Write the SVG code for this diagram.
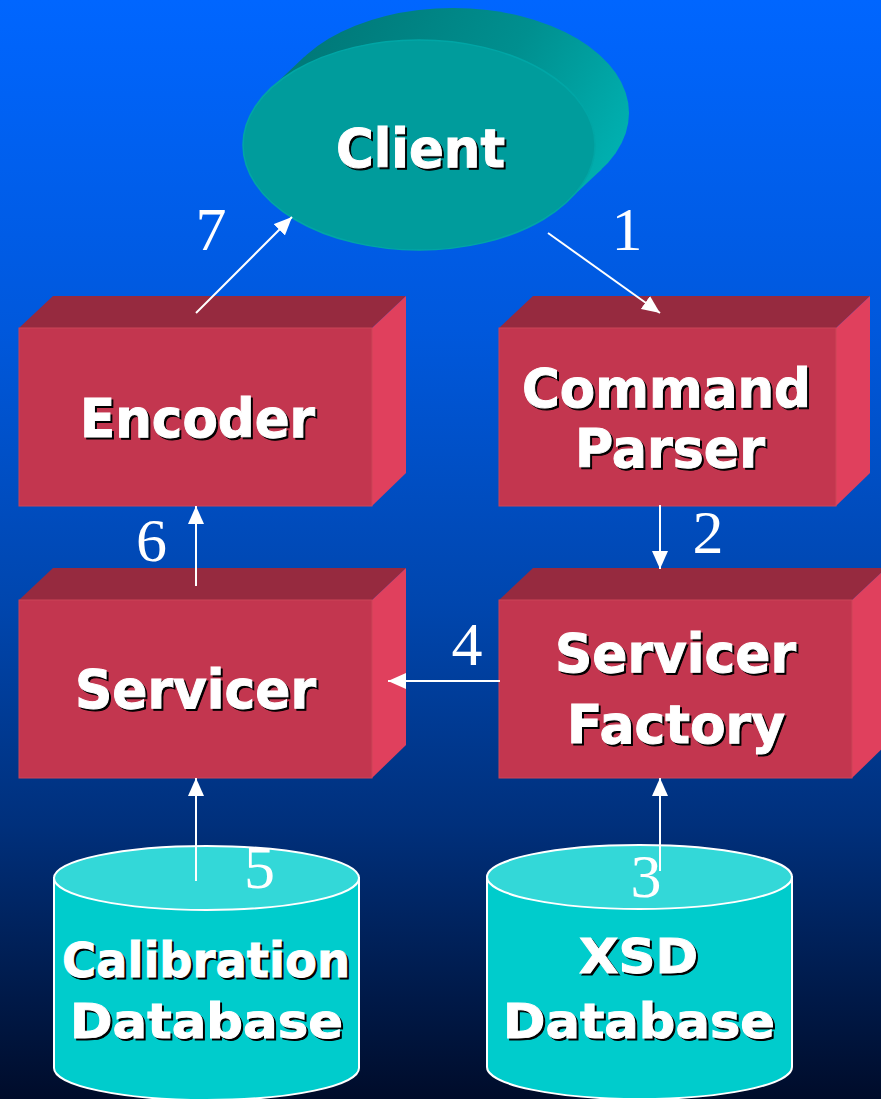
<svg xmlns="http://www.w3.org/2000/svg" width="881" height="1099" viewBox="0 0 881 1099">
  <defs>
    <linearGradient id="bg" x1="0" y1="0" x2="0" y2="1">
      <stop offset="0" stop-color="#0066FF"/>
      <stop offset="0.3" stop-color="#0058DC"/>
      <stop offset="0.55" stop-color="#0046AE"/>
      <stop offset="0.75" stop-color="#00307C"/>
      <stop offset="1" stop-color="#000C2A"/>
    </linearGradient>
    <linearGradient id="clientSide" gradientUnits="userSpaceOnUse" x1="330" y1="20" x2="630" y2="200">
      <stop offset="0" stop-color="#007A7A"/>
      <stop offset="0.5" stop-color="#008F8F"/>
      <stop offset="1" stop-color="#00B8B8"/>
    </linearGradient>
    <marker id="head" viewBox="0 0 18 16" refX="18" refY="8" markerWidth="18" markerHeight="16" markerUnits="userSpaceOnUse" orient="auto">
      <path d="M0,0 L18,8 L0,16 Z" fill="#FFFFFF"/>
    </marker>
  </defs>
  <style>
    .front { fill: #C3364F; stroke: #CC4458; stroke-width: 1; }
    .top { fill: #962A3F; }
    .side { fill: #E0405D; }
    .cyl-body { fill: #00CCCC; stroke: #FFFFFF; stroke-width: 2; }
    .cyl-top { fill: #33D8D8; stroke: #FFFFFF; stroke-width: 2; }
    .label { font-family: "DejaVu Sans", Verdana, sans-serif; font-weight: bold; text-anchor: middle; }
    .label .shadow { fill: #000000; stroke: #000000; stroke-width: 1; }
    .label .fg { fill: #FFFFFF; stroke: #FFFFFF; stroke-width: 1; }
    .num { font-family: "Liberation Serif", "Times New Roman", serif; font-size: 62px; fill: #FFFFFF; text-anchor: middle; }
    .conn { stroke: #FFFFFF; stroke-width: 2; fill: none; marker-end: url(#head); }
  </style>

  <rect x="0" y="0" width="881" height="1099" fill="url(#bg)"/>

  <!-- Client: extruded ellipse -->
  <g id="client">
    <ellipse cx="453" cy="113" rx="176" ry="105" fill="url(#clientSide)"/>
    <polygon points="270.4,88.7 304.4,56.7 601.6,169.3 567.6,201.3" fill="url(#clientSide)"/>
    <ellipse cx="419" cy="145" rx="176" ry="105" fill="#009C9C" stroke="#00A6A6" stroke-width="1.5"/>
    <g class="label" font-size="54">
      <text class="shadow" x="422.5" y="169" textLength="169" lengthAdjust="spacingAndGlyphs">Client</text>
      <text class="fg" x="420.5" y="167" textLength="169" lengthAdjust="spacingAndGlyphs">Client</text>
    </g>
  </g>

  <!-- Encoder box -->
  <g id="encoder">
    <polygon class="top" points="19,328 53,296 406,296 372,328"/>
    <polygon class="side" points="372,328 406,296 406,473 372,506"/>
    <rect class="front" x="19" y="328" width="353" height="178"/>
    <g class="label" font-size="54">
      <text class="shadow" x="199.5" y="439" textLength="235" lengthAdjust="spacingAndGlyphs">Encoder</text>
      <text class="fg" x="197.5" y="437" textLength="235" lengthAdjust="spacingAndGlyphs">Encoder</text>
    </g>
  </g>

  <!-- Command Parser box -->
  <g id="command-parser">
    <polygon class="top" points="499,328 533,296 870,296 836,328"/>
    <polygon class="side" points="836,328 870,296 870,473 836,506"/>
    <rect class="front" x="499" y="328" width="337" height="178"/>
    <g class="label" font-size="54">
      <text class="shadow" x="668.5" y="409" textLength="289" lengthAdjust="spacingAndGlyphs">Command</text>
      <text class="fg" x="666.5" y="407" textLength="289" lengthAdjust="spacingAndGlyphs">Command</text>
      <text class="shadow" x="672" y="469" textLength="190" lengthAdjust="spacingAndGlyphs">Parser</text>
      <text class="fg" x="670" y="467" textLength="190" lengthAdjust="spacingAndGlyphs">Parser</text>
    </g>
  </g>

  <!-- Servicer box -->
  <g id="servicer">
    <polygon class="top" points="19,600 53,568 406,568 372,600"/>
    <polygon class="side" points="372,600 406,568 406,745 372,778"/>
    <rect class="front" x="19" y="600" width="353" height="178"/>
    <g class="label" font-size="54">
      <text class="shadow" x="197.5" y="710" textLength="241" lengthAdjust="spacingAndGlyphs">Servicer</text>
      <text class="fg" x="195.5" y="708" textLength="241" lengthAdjust="spacingAndGlyphs">Servicer</text>
    </g>
  </g>

  <!-- Servicer Factory box -->
  <g id="servicer-factory">
    <polygon class="top" points="499,600 533,568 886,568 852,600"/>
    <polygon class="side" points="852,600 886,568 886,745 852,778"/>
    <rect class="front" x="499" y="600" width="353" height="178"/>
    <g class="label" font-size="54">
      <text class="shadow" x="677.5" y="674" textLength="241" lengthAdjust="spacingAndGlyphs">Servicer</text>
      <text class="fg" x="675.5" y="672" textLength="241" lengthAdjust="spacingAndGlyphs">Servicer</text>
      <text class="shadow" x="678" y="745" textLength="218" lengthAdjust="spacingAndGlyphs">Factory</text>
      <text class="fg" x="676" y="743" textLength="218" lengthAdjust="spacingAndGlyphs">Factory</text>
    </g>
  </g>

  <!-- Calibration Database cylinder -->
  <g id="calibration-db">
    <path class="cyl-body" d="M54,878 L54,1068 A152.5,32 0 0 0 359,1068 L359,878 Z"/>
    <ellipse class="cyl-top" cx="206.5" cy="878" rx="152.5" ry="32"/>
    <g class="label" font-size="48">
      <text class="shadow" x="208" y="979" textLength="288" lengthAdjust="spacingAndGlyphs">Calibration</text>
      <text class="fg" x="206" y="977" textLength="288" lengthAdjust="spacingAndGlyphs">Calibration</text>
      <text class="shadow" x="208.5" y="1040" textLength="273" lengthAdjust="spacingAndGlyphs">Database</text>
      <text class="fg" x="206.5" y="1038" textLength="273" lengthAdjust="spacingAndGlyphs">Database</text>
    </g>
  </g>

  <!-- XSD Database cylinder -->
  <g id="xsd-db">
    <path class="cyl-body" d="M487,877 L487,1067 A152.5,32 0 0 0 792,1067 L792,877 Z"/>
    <ellipse class="cyl-top" cx="639.5" cy="877" rx="152.5" ry="32"/>
    <g class="label" font-size="48">
      <text class="shadow" x="640.5" y="975" textLength="119" lengthAdjust="spacingAndGlyphs">XSD</text>
      <text class="fg" x="638.5" y="973" textLength="119" lengthAdjust="spacingAndGlyphs">XSD</text>
      <text class="shadow" x="641" y="1040" textLength="272" lengthAdjust="spacingAndGlyphs">Database</text>
      <text class="fg" x="639" y="1038" textLength="272" lengthAdjust="spacingAndGlyphs">Database</text>
    </g>
  </g>

  <!-- Connectors with step numbers -->
  <g id="connectors">
    <line class="conn" x1="548" y1="233" x2="660" y2="313"/>
    <line class="conn" x1="660" y1="505" x2="660" y2="569"/>
    <line class="conn" x1="660" y1="871" x2="660" y2="778"/>
    <line class="conn" x1="500" y1="681" x2="388" y2="681"/>
    <line class="conn" x1="196" y1="881" x2="196" y2="778"/>
    <line class="conn" x1="196" y1="586" x2="196" y2="506"/>
    <line class="conn" x1="196" y1="313" x2="292" y2="217"/>
    <text class="num" x="627" y="250">1</text>
    <text class="num" x="708" y="553">2</text>
    <text class="num" x="646" y="897">3</text>
    <text class="num" x="467" y="665">4</text>
    <text class="num" x="259.5" y="888">5</text>
    <text class="num" x="151.5" y="561">6</text>
    <text class="num" x="211" y="250">7</text>
  </g>
</svg>
